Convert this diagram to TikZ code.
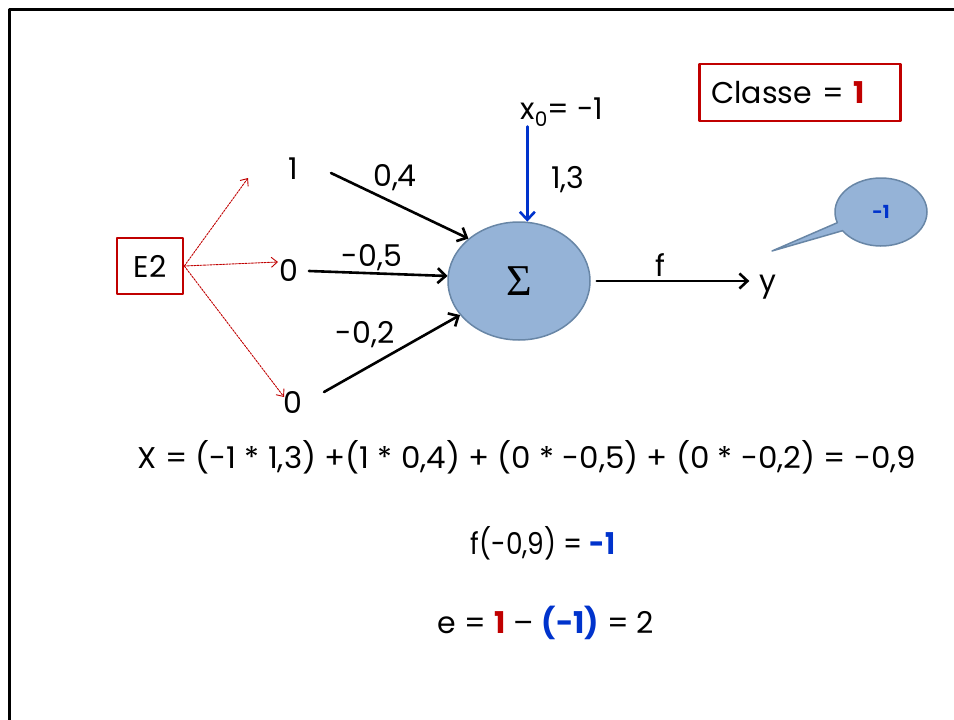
\documentclass[tikz,border=0pt]{standalone}
\usepackage{fontspec}
\setmainfont{Poppins}
\newfontfamily\sigmafont{Liberation Serif}
\usetikzlibrary{arrows.meta,calc,shapes.geometric,shapes.callouts}
\definecolor{ColRed}{RGB}{192,0,0}
\definecolor{ColBlue}{RGB}{0,51,204}
\definecolor{ColFill}{RGB}{149,179,215}
\definecolor{ColEdge}{RGB}{104,134,166}

\begin{document}
\begin{tikzpicture}[
  x=1pt, y=-1pt,
  >={Straight Barb[length=8pt,width=15pt]},
  line cap=round,
  line join=round,
  every node/.style={font=\fontsize{30}{30}\selectfont, inner sep=0pt},
  weight/.style={->, line width=2.6pt},
  feed/.style={-{Straight Barb[length=6pt,width=10pt]}, ColRed, line width=0.9pt, dash pattern=on 2pt off 1.2pt},
  redbox/.style={draw=ColRed, line width=2.6pt}
]
  \useasboundingbox (0,0) rectangle (954,720);
  % slide frame
  \draw[line width=3pt, line cap=butt] (954,9) -- (9,9) -- (9,720);

  % example E2 and its inputs
  \node[redbox, minimum width=66pt, minimum height=56pt] (e2) at (150,266) {E2};
  \node (in1) at (293,169) {1};
  \node (in2) at (289,270) {0};
  \node (in3) at (293,402) {0};
  \foreach \n/\dx/\dy in {in1/-45/9, in2/-11/-8, in3/-9/-5}
    \draw[feed] (e2.east) -- ([shift={(\dx,\dy)}]\n.center);

  % summation unit
  \node[ellipse, draw=ColEdge, fill=ColFill, line width=1.5pt,
        minimum width=142pt, minimum height=118pt] (sum) at (519,281)
        {\sigmafont\fontsize{44}{44}\selectfont Σ};
  \draw[weight] ([shift={(38,4)}]in1.center) -- (sum.140);
  \draw[weight] ([shift={(20,1)}]in2.center) -- (sum.176);
  \draw[weight] ([shift={(31,-10)}]in3.center) -- (sum.210);
  \node (w1) at (395,178) {0,4};
  \node (w2) at (372,258) {-0,5};
  \node (w3) at (365,335) {-0,2};

  % bias
  \node (x0) at (562,112) {x\raisebox{-7pt}{\fontsize{20}{20}\selectfont 0}= -1};
  \draw[->, ColBlue, line width=2.6pt] (x0.south -| sum.82) -- (sum.82);
  \node (w0) at (568,180) {1,3};

  % output
  \node (yout) at (768,287) {y};
  \draw[weight, shorten <=6pt, shorten >=10pt] (sum.east) -- (sum.east -| yout.west);
  \node (fn) at (660,265) {f};

  % class and answer
  \node[redbox, anchor=west, minimum height=57pt, text width=177pt,
        inner xsep=12pt, align=left] (cls) at (698,92.5)
        {Classe = \textcolor{ColRed}{\bfseries 1}};
  \coordinate (tip) at ([shift={(4,-36)}]yout.center);
  \node[ellipse callout, draw=ColEdge, fill=ColFill, line width=1.5pt,
        minimum width=92pt, minimum height=68pt, callout absolute pointer={(tip)},
        font=\fontsize{18}{18}\selectfont\bfseries, text=ColBlue] (bubble) at (881,212) {-1};

  % computation
  \node (sumx) at (527,457)
    {\scalebox{1.03}[1]{X = (-1 * 1,3) +(1 * 0,4) + (0 * -0,5) + (0 * -0,2) = -0,9}};
  \node (fx) at (543,543)
    {\scalebox{0.88}[1]{f(-0,9) = \textcolor{ColBlue}{\bfseries -1}}};
  \node (err) at (546,623)
    {e = \textcolor{ColRed}{\bfseries 1} – \textcolor{ColBlue}{\bfseries (-1)} = 2};
\end{tikzpicture}
\end{document}
